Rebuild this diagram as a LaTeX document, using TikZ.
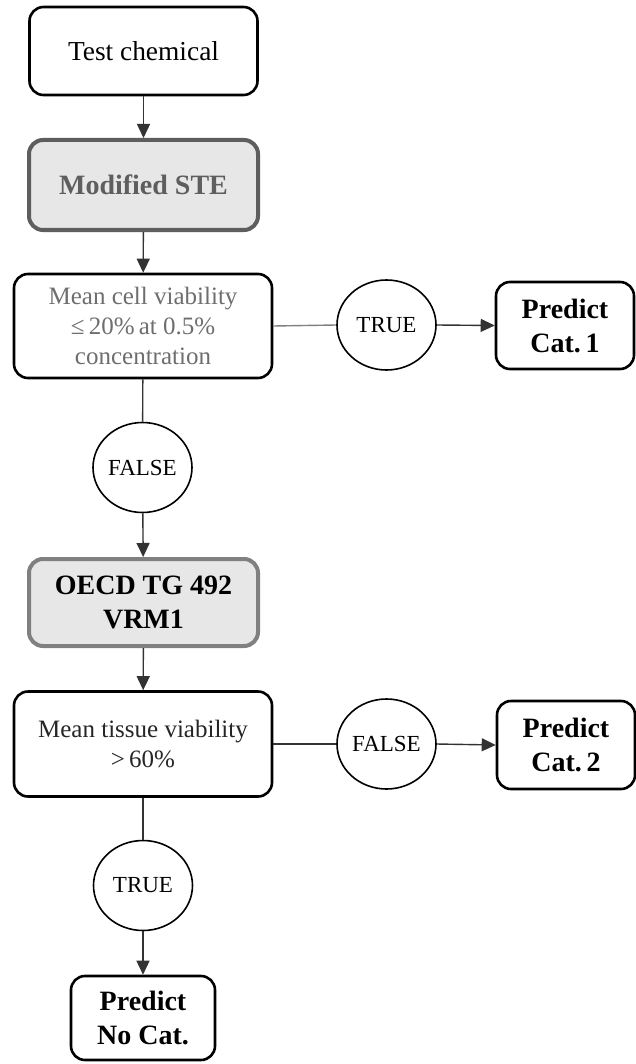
\documentclass[tikz,border=0pt]{standalone}
\usepackage{fontspec}
\setmainfont{Liberation Serif}
\usetikzlibrary{arrows.meta,shapes.geometric}
\definecolor{stegray}{HTML}{5E5E5E}
\definecolor{oecdgray}{HTML}{808080}
\definecolor{boxfill}{HTML}{E7E7E7}
\definecolor{condtext}{HTML}{6E6E6E}
\definecolor{linkgray}{HTML}{333333}
\begin{document}
\begin{tikzpicture}[x=0.5pt,y=-0.5pt,
  box/.style={draw=black, line width=1.3pt, rounded corners=7pt, align=center,
    inner sep=0pt, fill=white, font=\fontsize{13.7}{16}\selectfont},
  boldbox/.style={box, font=\fontsize{14}{17}\selectfont\bfseries},
  graybox/.style={box, fill=boxfill, line width=2pt, font=\fontsize{14}{17}\selectfont\bfseries},
  condbox/.style={box, font=\fontsize{12.5}{15}\selectfont},
  decision/.style={ellipse, draw=black, line width=0.8pt, inner sep=0pt, fill=white,
    minimum width=49.5pt, minimum height=45pt, font=\fontsize{11.5}{13}\selectfont},
  flow/.style={draw=linkgray, line width=0.7pt, -{Triangle[length=7pt,width=6.5pt]}},
  link/.style={draw=linkgray, line width=0.7pt},
]
\path[use as bounding box, fill=white] (0,0) rectangle (636,1064);

% main column
\node[box, minimum width=114pt, minimum height=44pt] (tc) at (143.5,51) {Test chemical};
\node[graybox, draw=stegray, text=stegray, minimum width=114.5pt, minimum height=45pt]
  (ste) at (143.5,185) {Modified STE};
\node[condbox, text=condtext, minimum width=129pt, minimum height=52pt] (mcv) at (143,326)
  {Mean cell viability\\ ≤\,20\%\,at 0.5\%\\ concentration};
\node[decision] (t1) at (386.5,325) {TRUE};
\node[boldbox, minimum width=69pt, minimum height=43.5pt] (cat1) at (565,325.5) {Predict\\ Cat.\,1};
\node[decision] (f1) at (142.5,467.5) {FALSE};
\node[graybox, draw=oecdgray, text=black, minimum width=114.5pt, minimum height=43.5pt]
  (oecd) at (143.5,602.5) {OECD TG 492\\ VRM1};
\node[condbox, text=black!85, minimum width=129pt, minimum height=52.5pt] (mtv) at (143,744)
  {Mean tissue viability\\ >\,60\%};
\node[decision] (f2) at (386.5,744) {FALSE};
\node[boldbox, minimum width=69pt, minimum height=44pt] (cat2) at (566,745) {Predict\\ Cat.\,2};
\node[decision] (t2) at (143,885.5) {TRUE};
\node[boldbox, minimum width=72pt, minimum height=42pt] (nocat) at (143,1018) {Predict\\ No Cat.};

% connectors
\draw[flow] (tc) -- (ste);
\draw[flow] (ste) -- (mcv);
\draw[link, draw=oecdgray] (mcv.east) -- (t1.west);
\draw[flow] (t1.east) -- (cat1.west);
\draw[link] (mcv) -- (f1);
\draw[flow] (f1) -- (oecd);
\draw[flow] (oecd) -- (mtv);
\draw[link] (mtv.east) -- (f2.west);
\draw[flow] (f2.east) -- (cat2.west);
\draw[link] (mtv) -- (t2);
\draw[flow] (t2) -- (nocat);
\end{tikzpicture}
\end{document}
